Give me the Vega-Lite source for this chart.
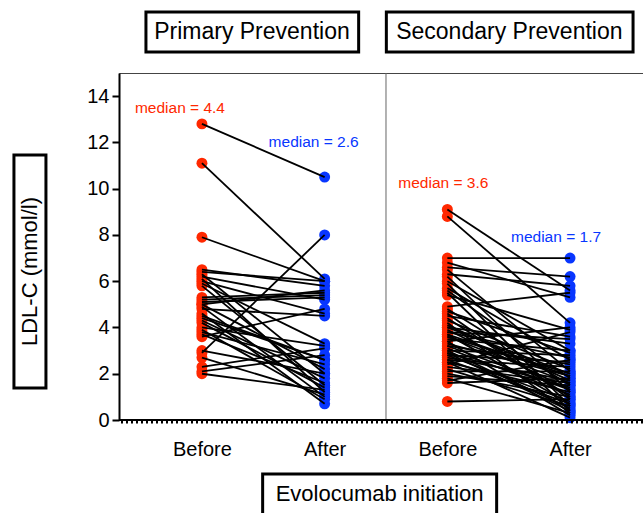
{
  "$schema": "https://vega.github.io/schema/vega-lite/v6.json",
  "width": 534,
  "height": 347,
  "autosize": {"type": "none"},
  "padding": {"left": 119, "top": 73, "right": 0, "bottom": 93},
  "config": {"font": "Liberation Sans", "view": {"stroke": "#444", "strokeWidth": 1}},
  "datasets": {
    "one": [{"note": "annotation"}],
    "pairs": [
    {"pid":"P1","arm":"Primary|Before","time":"Before","ldl":12.8},{"pid":"P1","arm":"Primary|After","time":"After","ldl":10.5},
    {"pid":"P2","arm":"Primary|Before","time":"Before","ldl":11.1},{"pid":"P2","arm":"Primary|After","time":"After","ldl":6.1},
    {"pid":"P3","arm":"Primary|Before","time":"Before","ldl":7.9},{"pid":"P3","arm":"Primary|After","time":"After","ldl":6.0},
    {"pid":"P4","arm":"Primary|Before","time":"Before","ldl":2.9},{"pid":"P4","arm":"Primary|After","time":"After","ldl":8.0},
    {"pid":"P5","arm":"Primary|Before","time":"Before","ldl":6.5},{"pid":"P5","arm":"Primary|After","time":"After","ldl":5.8},
    {"pid":"P6","arm":"Primary|Before","time":"Before","ldl":6.4},{"pid":"P6","arm":"Primary|After","time":"After","ldl":6.0},
    {"pid":"P7","arm":"Primary|Before","time":"Before","ldl":6.3},{"pid":"P7","arm":"Primary|After","time":"After","ldl":2.0},
    {"pid":"P8","arm":"Primary|Before","time":"Before","ldl":6.2},{"pid":"P8","arm":"Primary|After","time":"After","ldl":5.2},
    {"pid":"P9","arm":"Primary|Before","time":"Before","ldl":6.1},{"pid":"P9","arm":"Primary|After","time":"After","ldl":1.2},
    {"pid":"P10","arm":"Primary|Before","time":"Before","ldl":6.0},{"pid":"P10","arm":"Primary|After","time":"After","ldl":4.6},
    {"pid":"P11","arm":"Primary|Before","time":"Before","ldl":5.9},{"pid":"P11","arm":"Primary|After","time":"After","ldl":3.3},
    {"pid":"P12","arm":"Primary|Before","time":"Before","ldl":5.8},{"pid":"P12","arm":"Primary|After","time":"After","ldl":1.5},
    {"pid":"P13","arm":"Primary|Before","time":"Before","ldl":5.3},{"pid":"P13","arm":"Primary|After","time":"After","ldl":5.5},
    {"pid":"P14","arm":"Primary|Before","time":"Before","ldl":5.2},{"pid":"P14","arm":"Primary|After","time":"After","ldl":5.4},
    {"pid":"P15","arm":"Primary|Before","time":"Before","ldl":5.1},{"pid":"P15","arm":"Primary|After","time":"After","ldl":5.3},
    {"pid":"P16","arm":"Primary|Before","time":"Before","ldl":5.0},{"pid":"P16","arm":"Primary|After","time":"After","ldl":5.6},
    {"pid":"P17","arm":"Primary|Before","time":"Before","ldl":5.0},{"pid":"P17","arm":"Primary|After","time":"After","ldl":2.2},
    {"pid":"P18","arm":"Primary|Before","time":"Before","ldl":4.9},{"pid":"P18","arm":"Primary|After","time":"After","ldl":1.0},
    {"pid":"P19","arm":"Primary|Before","time":"Before","ldl":4.8},{"pid":"P19","arm":"Primary|After","time":"After","ldl":4.5},
    {"pid":"P20","arm":"Primary|Before","time":"Before","ldl":4.6},{"pid":"P20","arm":"Primary|After","time":"After","ldl":0.7},
    {"pid":"P21","arm":"Primary|Before","time":"Before","ldl":4.4},{"pid":"P21","arm":"Primary|After","time":"After","ldl":2.6},
    {"pid":"P22","arm":"Primary|Before","time":"Before","ldl":4.3},{"pid":"P22","arm":"Primary|After","time":"After","ldl":1.8},
    {"pid":"P23","arm":"Primary|Before","time":"Before","ldl":4.2},{"pid":"P23","arm":"Primary|After","time":"After","ldl":1.4},
    {"pid":"P24","arm":"Primary|Before","time":"Before","ldl":4.0},{"pid":"P24","arm":"Primary|After","time":"After","ldl":3.2},
    {"pid":"P25","arm":"Primary|Before","time":"Before","ldl":3.9},{"pid":"P25","arm":"Primary|After","time":"After","ldl":0.9},
    {"pid":"P26","arm":"Primary|Before","time":"Before","ldl":3.8},{"pid":"P26","arm":"Primary|After","time":"After","ldl":2.4},
    {"pid":"P27","arm":"Primary|Before","time":"Before","ldl":3.6},{"pid":"P27","arm":"Primary|After","time":"After","ldl":4.8},
    {"pid":"P28","arm":"Primary|Before","time":"Before","ldl":3.7},{"pid":"P28","arm":"Primary|After","time":"After","ldl":1.6},
    {"pid":"P29","arm":"Primary|Before","time":"Before","ldl":3.0},{"pid":"P29","arm":"Primary|After","time":"After","ldl":2.0},
    {"pid":"P30","arm":"Primary|Before","time":"Before","ldl":2.7},{"pid":"P30","arm":"Primary|After","time":"After","ldl":1.1},
    {"pid":"P31","arm":"Primary|Before","time":"Before","ldl":2.3},{"pid":"P31","arm":"Primary|After","time":"After","ldl":3.1},
    {"pid":"P32","arm":"Primary|Before","time":"Before","ldl":2.1},{"pid":"P32","arm":"Primary|After","time":"After","ldl":2.8},
    {"pid":"P33","arm":"Primary|Before","time":"Before","ldl":2.0},{"pid":"P33","arm":"Primary|After","time":"After","ldl":1.3},
    {"pid":"P34","arm":"Primary|Before","time":"Before","ldl":4.5},{"pid":"P34","arm":"Primary|After","time":"After","ldl":2.6},
    {"pid":"S1","arm":"Secondary|Before","time":"Before","ldl":9.1},{"pid":"S1","arm":"Secondary|After","time":"After","ldl":5.6},
    {"pid":"S2","arm":"Secondary|Before","time":"Before","ldl":8.8},{"pid":"S2","arm":"Secondary|After","time":"After","ldl":4.2},
    {"pid":"S3","arm":"Secondary|Before","time":"Before","ldl":7.0},{"pid":"S3","arm":"Secondary|After","time":"After","ldl":7.0},
    {"pid":"S4","arm":"Secondary|Before","time":"Before","ldl":6.8},{"pid":"S4","arm":"Secondary|After","time":"After","ldl":5.3},
    {"pid":"S5","arm":"Secondary|Before","time":"Before","ldl":6.6},{"pid":"S5","arm":"Secondary|After","time":"After","ldl":6.2},
    {"pid":"S6","arm":"Secondary|Before","time":"Before","ldl":6.5},{"pid":"S6","arm":"Secondary|After","time":"After","ldl":2.1},
    {"pid":"S7","arm":"Secondary|Before","time":"Before","ldl":6.3},{"pid":"S7","arm":"Secondary|After","time":"After","ldl":5.8},
    {"pid":"S8","arm":"Secondary|Before","time":"Before","ldl":6.2},{"pid":"S8","arm":"Secondary|After","time":"After","ldl":1.2},
    {"pid":"S9","arm":"Secondary|Before","time":"Before","ldl":6.0},{"pid":"S9","arm":"Secondary|After","time":"After","ldl":3.0},
    {"pid":"S10","arm":"Secondary|Before","time":"Before","ldl":5.9},{"pid":"S10","arm":"Secondary|After","time":"After","ldl":0.6},
    {"pid":"S11","arm":"Secondary|Before","time":"Before","ldl":5.7},{"pid":"S11","arm":"Secondary|After","time":"After","ldl":2.6},
    {"pid":"S12","arm":"Secondary|Before","time":"Before","ldl":5.6},{"pid":"S12","arm":"Secondary|After","time":"After","ldl":1.8},
    {"pid":"S13","arm":"Secondary|Before","time":"Before","ldl":5.5},{"pid":"S13","arm":"Secondary|After","time":"After","ldl":0.4},
    {"pid":"S14","arm":"Secondary|Before","time":"Before","ldl":5.4},{"pid":"S14","arm":"Secondary|After","time":"After","ldl":3.9},
    {"pid":"S15","arm":"Secondary|Before","time":"Before","ldl":4.9},{"pid":"S15","arm":"Secondary|After","time":"After","ldl":5.5},
    {"pid":"S16","arm":"Secondary|Before","time":"Before","ldl":4.8},{"pid":"S16","arm":"Secondary|After","time":"After","ldl":1.5},
    {"pid":"S17","arm":"Secondary|Before","time":"Before","ldl":4.7},{"pid":"S17","arm":"Secondary|After","time":"After","ldl":2.9},
    {"pid":"S18","arm":"Secondary|Before","time":"Before","ldl":4.6},{"pid":"S18","arm":"Secondary|After","time":"After","ldl":0.9},
    {"pid":"S19","arm":"Secondary|Before","time":"Before","ldl":4.5},{"pid":"S19","arm":"Secondary|After","time":"After","ldl":3.6},
    {"pid":"S20","arm":"Secondary|Before","time":"Before","ldl":4.4},{"pid":"S20","arm":"Secondary|After","time":"After","ldl":1.0},
    {"pid":"S21","arm":"Secondary|Before","time":"Before","ldl":4.3},{"pid":"S21","arm":"Secondary|After","time":"After","ldl":2.2},
    {"pid":"S22","arm":"Secondary|Before","time":"Before","ldl":4.2},{"pid":"S22","arm":"Secondary|After","time":"After","ldl":0.3},
    {"pid":"S23","arm":"Secondary|Before","time":"Before","ldl":4.1},{"pid":"S23","arm":"Secondary|After","time":"After","ldl":1.7},
    {"pid":"S24","arm":"Secondary|Before","time":"Before","ldl":4.0},{"pid":"S24","arm":"Secondary|After","time":"After","ldl":3.3},
    {"pid":"S25","arm":"Secondary|Before","time":"Before","ldl":3.9},{"pid":"S25","arm":"Secondary|After","time":"After","ldl":1.3},
    {"pid":"S26","arm":"Secondary|Before","time":"Before","ldl":3.8},{"pid":"S26","arm":"Secondary|After","time":"After","ldl":2.7},
    {"pid":"S27","arm":"Secondary|Before","time":"Before","ldl":3.7},{"pid":"S27","arm":"Secondary|After","time":"After","ldl":0.7},
    {"pid":"S28","arm":"Secondary|Before","time":"Before","ldl":3.6},{"pid":"S28","arm":"Secondary|After","time":"After","ldl":2.0},
    {"pid":"S29","arm":"Secondary|Before","time":"Before","ldl":3.6},{"pid":"S29","arm":"Secondary|After","time":"After","ldl":1.6},
    {"pid":"S30","arm":"Secondary|Before","time":"Before","ldl":3.5},{"pid":"S30","arm":"Secondary|After","time":"After","ldl":3.0},
    {"pid":"S31","arm":"Secondary|Before","time":"Before","ldl":3.4},{"pid":"S31","arm":"Secondary|After","time":"After","ldl":0.2},
    {"pid":"S32","arm":"Secondary|Before","time":"Before","ldl":3.3},{"pid":"S32","arm":"Secondary|After","time":"After","ldl":1.9},
    {"pid":"S33","arm":"Secondary|Before","time":"Before","ldl":3.2},{"pid":"S33","arm":"Secondary|After","time":"After","ldl":2.4},
    {"pid":"S34","arm":"Secondary|Before","time":"Before","ldl":3.1},{"pid":"S34","arm":"Secondary|After","time":"After","ldl":1.1},
    {"pid":"S35","arm":"Secondary|Before","time":"Before","ldl":3.0},{"pid":"S35","arm":"Secondary|After","time":"After","ldl":2.8},
    {"pid":"S36","arm":"Secondary|Before","time":"Before","ldl":3.0},{"pid":"S36","arm":"Secondary|After","time":"After","ldl":0.5},
    {"pid":"S37","arm":"Secondary|Before","time":"Before","ldl":2.9},{"pid":"S37","arm":"Secondary|After","time":"After","ldl":1.4},
    {"pid":"S38","arm":"Secondary|Before","time":"Before","ldl":2.8},{"pid":"S38","arm":"Secondary|After","time":"After","ldl":2.5},
    {"pid":"S39","arm":"Secondary|Before","time":"Before","ldl":2.8},{"pid":"S39","arm":"Secondary|After","time":"After","ldl":0.8},
    {"pid":"S40","arm":"Secondary|Before","time":"Before","ldl":2.7},{"pid":"S40","arm":"Secondary|After","time":"After","ldl":1.7},
    {"pid":"S41","arm":"Secondary|Before","time":"Before","ldl":2.6},{"pid":"S41","arm":"Secondary|After","time":"After","ldl":2.3},
    {"pid":"S42","arm":"Secondary|Before","time":"Before","ldl":2.5},{"pid":"S42","arm":"Secondary|After","time":"After","ldl":0.1},
    {"pid":"S43","arm":"Secondary|Before","time":"Before","ldl":2.5},{"pid":"S43","arm":"Secondary|After","time":"After","ldl":1.2},
    {"pid":"S44","arm":"Secondary|Before","time":"Before","ldl":2.4},{"pid":"S44","arm":"Secondary|After","time":"After","ldl":3.8},
    {"pid":"S45","arm":"Secondary|Before","time":"Before","ldl":2.3},{"pid":"S45","arm":"Secondary|After","time":"After","ldl":1.6},
    {"pid":"S46","arm":"Secondary|Before","time":"Before","ldl":2.2},{"pid":"S46","arm":"Secondary|After","time":"After","ldl":0.6},
    {"pid":"S47","arm":"Secondary|Before","time":"Before","ldl":2.1},{"pid":"S47","arm":"Secondary|After","time":"After","ldl":2.1},
    {"pid":"S48","arm":"Secondary|Before","time":"Before","ldl":2.0},{"pid":"S48","arm":"Secondary|After","time":"After","ldl":1.0},
    {"pid":"S49","arm":"Secondary|Before","time":"Before","ldl":1.9},{"pid":"S49","arm":"Secondary|After","time":"After","ldl":1.5},
    {"pid":"S50","arm":"Secondary|Before","time":"Before","ldl":1.8},{"pid":"S50","arm":"Secondary|After","time":"After","ldl":0.3},
    {"pid":"S51","arm":"Secondary|Before","time":"Before","ldl":1.7},{"pid":"S51","arm":"Secondary|After","time":"After","ldl":2.6},
    {"pid":"S52","arm":"Secondary|Before","time":"Before","ldl":1.6},{"pid":"S52","arm":"Secondary|After","time":"After","ldl":1.8},
    {"pid":"S53","arm":"Secondary|Before","time":"Before","ldl":0.8},{"pid":"S53","arm":"Secondary|After","time":"After","ldl":0.9},
    {"pid":"S54","arm":"Secondary|Before","time":"Before","ldl":3.4},{"pid":"S54","arm":"Secondary|After","time":"After","ldl":4.0},
    {"pid":"S55","arm":"Secondary|Before","time":"Before","ldl":4.0},{"pid":"S55","arm":"Secondary|After","time":"After","ldl":2.0},
    {"pid":"S56","arm":"Secondary|Before","time":"Before","ldl":3.2},{"pid":"S56","arm":"Secondary|After","time":"After","ldl":1.3},
    {"pid":"S57","arm":"Secondary|Before","time":"Before","ldl":2.9},{"pid":"S57","arm":"Secondary|After","time":"After","ldl":0.4},
    {"pid":"S58","arm":"Secondary|Before","time":"Before","ldl":3.7},{"pid":"S58","arm":"Secondary|After","time":"After","ldl":1.9},
    {"pid":"S59","arm":"Secondary|Before","time":"Before","ldl":2.6},{"pid":"S59","arm":"Secondary|After","time":"After","ldl":0.7},
    {"pid":"S60","arm":"Secondary|Before","time":"Before","ldl":3.8},{"pid":"S60","arm":"Secondary|After","time":"After","ldl":3.5}
  ]},
  "layer": [
    {"data": {"name": "pairs"},
     "encoding": {
       "x": {"field": "arm", "type": "nominal",
         "scale": {"type": "point", "domain": ["Primary|Before","Primary|After","Secondary|Before","Secondary|After"], "padding": 0.676},
         "axis": {"title": null, "ticks": false, "domain": false, "labelAngle": 0, "labelFontSize": 20, "labelColor": "black", "labelPadding": 19,
           "labelExpr": "split(datum.label, '|')[1]"}},
       "y": {"field": "ldl", "type": "quantitative",
         "scale": {"domain": [0, 15], "nice": false},
         "axis": {"title": null, "values": [0,2,4,6,8,10,12,14], "grid": false, "labelFontSize": 20, "labelColor": "black",
           "tickColor": "black", "tickSize": 7, "tickWidth": 2, "domainColor": "black", "domainWidth": 2, "labelPadding": 3}}
     },
     "layer": [
       {"mark": {"type": "circle", "size": 120, "opacity": 1},
        "encoding": {"color": {"field": "time", "type": "nominal", "scale": {"domain": ["Before","After"], "range": ["#FF2800","#0836FF"]}, "legend": null}}},
       {"mark": {"type": "line", "color": "black", "strokeWidth": 1.8},
        "encoding": {"detail": {"field": "pid", "type": "nominal"}}}
     ]},
    {"data": {"name": "one"},
     "mark": {"type": "rule", "color": "#666", "strokeWidth": 1, "xOffset": 61.35},
     "encoding": {"x": {"datum": "Primary|After"}}},
    {"data": {"name": "one"},
     "mark": {"type": "rule", "color": "black", "strokeWidth": 2},
     "encoding": {"y": {"datum": 0}}},
    {"data": {"name": "one"},
     "mark": {"type": "rule", "color": "black", "strokeWidth": 3, "strokeDash": [2, 3], "yOffset": 2},
     "encoding": {"y": {"datum": 0}}},
    {"data": {"name": "one"},
     "mark": {"type": "text", "text": "median = 4.4", "fill": "#FF2800", "fontSize": 15.5, "dx": -22},
     "encoding": {"x": {"datum": "Primary|Before"}, "y": {"datum": 13.5}}},
    {"data": {"name": "one"},
     "mark": {"type": "text", "text": "median = 2.6", "fill": "#0836FF", "fontSize": 15.5, "dx": -11},
     "encoding": {"x": {"datum": "Primary|After"}, "y": {"datum": 12.0}}},
    {"data": {"name": "one"},
     "mark": {"type": "text", "text": "median = 3.6", "fill": "#FF2800", "fontSize": 15.5, "dx": -4},
     "encoding": {"x": {"datum": "Secondary|Before"}, "y": {"datum": 10.25}}},
    {"data": {"name": "one"},
     "mark": {"type": "text", "text": "median = 1.7", "fill": "#0836FF", "fontSize": 15.5, "dx": -14},
     "encoding": {"x": {"datum": "Secondary|After"}, "y": {"datum": 7.9}}},
    {"data": {"name": "one"},
     "mark": {"type": "rect", "fill": "white", "stroke": "black", "strokeWidth": 3, "xOffset": -56, "x2Offset": 34},
     "encoding": {"x": {"datum": "Primary|Before"}, "x2": {"datum": "Primary|After"}, "y": {"datum": 17.64}, "y2": {"datum": 15.91}}},
    {"data": {"name": "one"},
     "mark": {"type": "text", "text": "Primary Prevention", "fontSize": 23, "fill": "black", "xOffset": 50},
     "encoding": {"x": {"datum": "Primary|Before"}, "y": {"datum": 16.77}}},
    {"data": {"name": "one"},
     "mark": {"type": "rect", "fill": "white", "stroke": "black", "strokeWidth": 3, "xOffset": -61, "x2Offset": 63},
     "encoding": {"x": {"datum": "Secondary|Before"}, "x2": {"datum": "Secondary|After"}, "y": {"datum": 17.64}, "y2": {"datum": 15.91}}},
    {"data": {"name": "one"},
     "mark": {"type": "text", "text": "Secondary Prevention", "fontSize": 23, "fill": "black", "xOffset": 62},
     "encoding": {"x": {"datum": "Secondary|Before"}, "y": {"datum": 16.77}}},
    {"data": {"name": "one"},
     "mark": {"type": "rect", "fill": "white", "stroke": "black", "strokeWidth": 3, "xOffset": -188, "x2Offset": -156},
     "encoding": {"x": {"datum": "Primary|Before"}, "x2": {"datum": "Primary|Before"}, "y": {"datum": 11.46}, "y2": {"datum": 1.38}}},
    {"data": {"name": "one"},
     "mark": {"type": "text", "text": "LDL-C (mmol/l)", "fontSize": 22, "fill": "black", "angle": 270, "xOffset": -172},
     "encoding": {"x": {"datum": "Primary|Before"}, "y": {"datum": 6.42}}},
    {"data": {"name": "one"},
     "mark": {"type": "rect", "fill": "white", "stroke": "black", "strokeWidth": 3, "xOffset": -62, "x2Offset": 172},
     "encoding": {"x": {"datum": "Primary|After"}, "x2": {"datum": "Primary|After"}, "y": {"datum": -2.33}, "y2": {"datum": -4.6}}},
    {"data": {"name": "one"},
     "mark": {"type": "text", "text": "Evolocumab initiation", "fontSize": 22, "fill": "black", "xOffset": 55},
     "encoding": {"x": {"datum": "Primary|After"}, "y": {"datum": -3.2}}}
  ]
}
